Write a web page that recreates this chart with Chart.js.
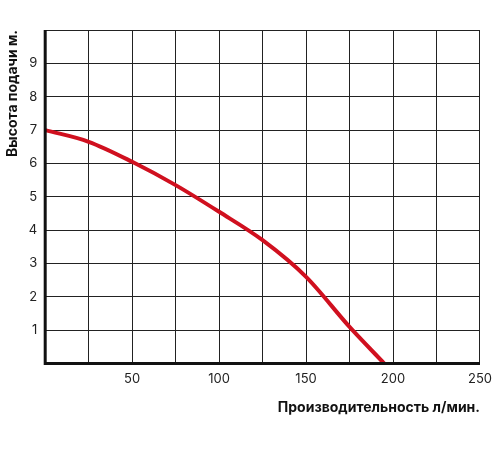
<!DOCTYPE html>
<html><head><meta charset="utf-8">
<script src="https://cdn.jsdelivr.net/npm/chart.js@4"></script>
<style>body{margin:0;background:#fff}</style>
</head><body><canvas id="c" width="500" height="450"></canvas>
<script>
const flowX = [0, 25, 50, 75, 100, 125, 150, 175, 195];
const headY = [7, 6.65, 6.05, 5.35, 4.55, 3.7, 2.6, 1.1, 0];
const xTicks = [50, 100, 150, 200, 250];
const yTicks = [1, 2, 3, 4, 5, 6, 7, 8, 9];

const axisLines = {
  id:'axisLines',
  afterDraw(chart){
    const {ctx, chartArea:a} = chart;
    ctx.save();
    ctx.strokeStyle = '#111'; ctx.lineWidth = 3;
    ctx.beginPath();
    ctx.moveTo(a.left, a.top); ctx.lineTo(a.left, a.bottom); ctx.lineTo(a.right, a.bottom);
    ctx.stroke();
    ctx.restore();
  }
};

new Chart(document.getElementById('c'), {
  type:'line',
  data:{ datasets:[{
    data: flowX.map((x,i)=>({x, y:headY[i]})),
    borderColor:'#d0101f', borderWidth:4, pointRadius:0, cubicInterpolationMode:'monotone'
  }]},
  options:{
    responsive:false, animation:false,
    layout:{padding:{left:0, right:12, top:30, bottom:30}},
    plugins:{legend:{display:false}, tooltip:{enabled:false}},
    scales:{
      x:{type:'linear', min:0, max:250,
        afterBuildTicks(s){ s.ticks = [25,50,75,100,125,150,175,200,225,250].map(v=>({value:v})); },
        grid:{color:'#222', lineWidth:1, drawTicks:false},
        border:{display:false},
        ticks:{padding:8, color:'#222', font:{family:'Inter', size:13}, callback:v=>xTicks.includes(v)?String(v):''},
        title:{display:true, text:'Производительность л/мин.', align:'end', color:'#111', font:{family:'Inter', size:14, weight:'bold'}}
      },
      y:{type:'linear', min:0, max:10,
        afterBuildTicks(s){ s.ticks = [1,2,3,4,5,6,7,8,9,10].map(v=>({value:v})); },
        grid:{color:'#222', lineWidth:1, drawTicks:false},
        border:{display:false},
        ticks:{padding:8, color:'#222', font:{family:'Inter', size:13}, callback:v=>yTicks.includes(v)?String(v):''},
        title:{display:true, text:'Высота подачи м.', align:'end', color:'#111', font:{family:'Inter', size:14, weight:'bold'}, padding:{bottom:0}}
      }
    }
  },
  plugins:[axisLines]
});
</script></body></html>
